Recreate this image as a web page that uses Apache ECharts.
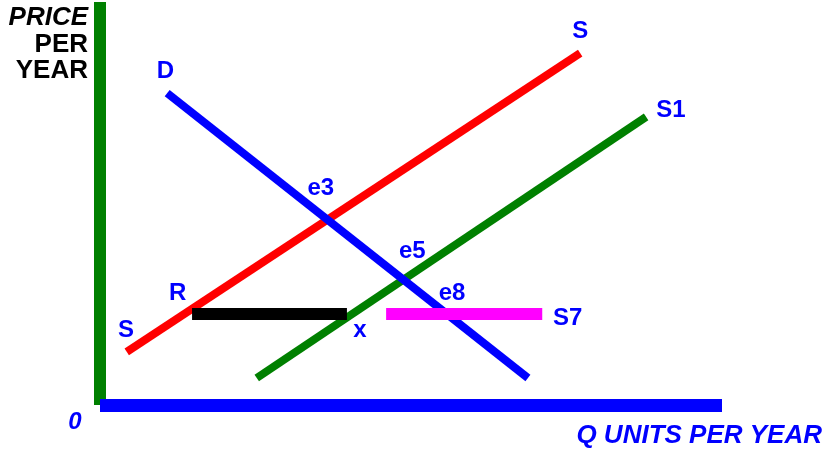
<!DOCTYPE html>
<html>
<head>
<meta charset="utf-8">
<script src="https://cdn.jsdelivr.net/npm/echarts@6/dist/echarts.min.js"></script>
<style>
  html, body { margin: 0; padding: 0; background: #fff; }
  #chart { width: 826px; height: 450px; }
</style>
</head>
<body>
<div id="chart"></div>
<script>
// supply / demand diagram, values on a 0-100 scale both ways
const supplyS = [[4.3, 13.2], [77.2, 87.3]];
const supplyS1 = [[25.2, 6.7], [87.8, 71.5]];
const demandD = [[10.8, 77.4], [68.8, 6.7]];
const barRX = [[14.8, 22.6], [39.7, 22.6]];
const supplyS7 = [[46.0, 22.6], [71.1, 22.6]];

// point labels: [x, y, text]
const pointLabels = [
  [77.2, 92.6, 'S'],
  [91.8, 73.2, 'S1'],
  [10.5, 82.9, 'D'],
  [35.5, 53.8, 'e3'],
  [50.2, 38.0, 'e5'],
  [56.6, 27.8, 'e8'],
  [12.5, 27.8, 'R'],
  [4.2, 18.4, 'S'],
  [41.8, 18.4, 'x'],
  [75.2, 21.6, 'S7']
];

const FONT = '"Liberation Sans", Arial, sans-serif';

function segment(name, data, color, width) {
  return {
    name: name,
    type: 'line',
    data: data,
    symbol: 'none',
    silent: true,
    lineStyle: { color: color, width: width, cap: 'butt' }
  };
}

const chart = echarts.init(document.getElementById('chart'));

const option = {
  animation: false,
  backgroundColor: '#fff',
  grid: { left: 100, top: 2, right: 104, bottom: 45 },
  xAxis: {
    type: 'value',
    min: 0,
    max: 100,
    z: 3,
    axisLine: { onZero: false, lineStyle: { color: '#0000ff', width: 13, cap: 'butt' } },
    axisTick: { show: false },
    axisLabel: { show: false },
    splitLine: { show: false }
  },
  yAxis: {
    type: 'value',
    min: 0,
    max: 100,
    z: 2,
    axisLine: { show: true, onZero: false, lineStyle: { color: '#008000', width: 12, cap: 'butt' } },
    axisTick: { show: false },
    axisLabel: { show: false },
    splitLine: { show: false }
  },
  graphic: [
    { type: 'text', x: 88, y: 18, style: { text: 'PRICE', fill: '#000', font: 'italic bold 26px ' + FONT, textAlign: 'right', textVerticalAlign: 'middle' } },
    { type: 'text', x: 88, y: 45, style: { text: 'PER', fill: '#000', font: 'bold 26px ' + FONT, textAlign: 'right', textVerticalAlign: 'middle' } },
    { type: 'text', x: 88, y: 71, style: { text: 'YEAR', fill: '#000', font: 'bold 26px ' + FONT, textAlign: 'right', textVerticalAlign: 'middle' } },
    { type: 'text', x: 75, y: 422, style: { text: '0', fill: '#0000ff', font: 'italic bold 24px ' + FONT, textAlign: 'center', textVerticalAlign: 'middle' } },
    { type: 'text', x: 822, y: 436, style: { text: 'Q UNITS PER YEAR', fill: '#0000ff', font: 'italic bold 26px ' + FONT, textAlign: 'right', textVerticalAlign: 'middle' } }
  ],
  series: [
    segment('S', supplyS, '#ff0000', 8),
    segment('S1', supplyS1, '#008000', 8),
    segment('D', demandD, '#0000ff', 8),
    segment('RX', barRX, '#000000', 12),
    segment('S7', supplyS7, '#ff00ff', 12),
    {
      name: 'labels',
      type: 'scatter',
      data: pointLabels,
      symbolSize: 0,
      silent: true,
      itemStyle: { opacity: 1 },
      label: {
        show: true,
        position: 'inside',
        formatter: p => p.data[2],
        color: '#0000ff',
        fontFamily: FONT,
        fontWeight: 'bold',
        fontSize: 24
      }
    }
  ]
};

chart.setOption(option);
</script>
</body>
</html>
